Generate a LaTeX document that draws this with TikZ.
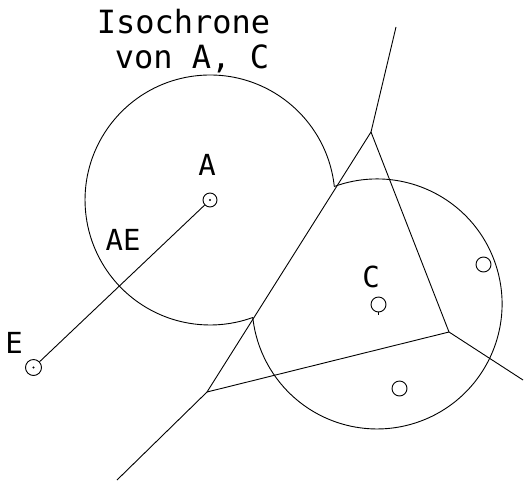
\documentclass[tikz,border=0pt]{standalone}
\usepackage{fontspec}
\newfontfamily\cadfont{DejaVu Sans Mono}
\begin{document}
\begin{tikzpicture}[x=1pt,y=-1pt,
  line width=0.9pt,
  lbl/.style={inner sep=0pt, anchor=base, font=\cadfont\fontsize{29}{32}\selectfont},
  ttl/.style={inner sep=0pt, anchor=base, font=\cadfont\fontsize{32}{36}\selectfont},
  site/.style={circle, draw, inner sep=0pt, minimum size=14pt, line width=0.9pt},
  vedge/.style={draw, line width=0.9pt},
  iso/.style={draw, line width=0.9pt}]
\useasboundingbox (0,0) rectangle (524,482);
% title
\node[ttl] (t1) at (183.5,33) {Isochrone};
\node[ttl] (t2) at (192,68) {von A, C};
% labels
\node[lbl] (lA) at (207,175) {A};
\node[lbl] (lAE) at (123,250) {AE};
\node[lbl] (lE) at (14,353) {E};
\node[lbl] (lC) at (371,287) {C};
% sites
\node[site] (A) at (210,200) {};
\node[site, minimum size=16pt] (E) at (33.5,367.5) {};
\node[site, minimum size=15pt] (C) at (378.5,304.5) {};
\node[site, minimum size=15pt] (S1) at (483.5,264.5) {};
\node[site, minimum size=15pt] (S2) at (399.5,388.5) {};
\fill (A.center) circle (1.2);
\fill (E.center) circle (1.2);
\draw (C.south) -- ++(0,3);
% connection E - A
\draw (E) -- (A);
% isochrone intersection points
\coordinate (p1) at (334.3,186.5);
\coordinate (p2) at (252.7,317.5);
% isochrones
\draw[iso] (p1) arc[start angle=-6.2, end angle=-290, radius=125];
\draw[iso] (p1) arc[start angle=-110, end angle=173.8, radius=125];
% Voronoi edges
\coordinate (vt) at (396,27);
\coordinate (v1) at (371,132);
\coordinate (v4) at (207,392);
\coordinate (vb) at (117,480);
\coordinate (v5) at (449,332);
\coordinate (vr) at (523,380);
\draw[vedge] (vt) -- (v1) -- (v4) -- (vb);
\draw[vedge] (v1) -- (v5) -- (vr);
\draw[vedge] (v4) -- (v5);
\end{tikzpicture}
\end{document}
